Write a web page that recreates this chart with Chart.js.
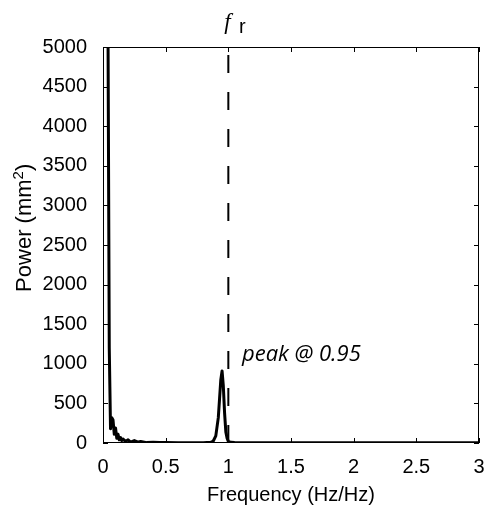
<!DOCTYPE html>
<html>
<head>
<meta charset="utf-8">
<script src="https://cdn.jsdelivr.net/npm/chart.js@4"></script>
<style>
  body { margin: 0; background: #fff; }
  #wrap { width: 485px; height: 511px; }
</style>
</head>
<body>
<div id="wrap"><canvas id="grafico" width="485" height="511"></canvas></div>
<script>
// datos
const frecuencias = [0.02, 0.03, 0.04, 0.05, 0.06, 0.07, 0.08, 0.09, 0.10, 0.11, 0.12, 0.13, 0.14, 0.15, 0.16, 0.18, 0.20, 0.22, 0.25, 0.28, 0.30, 0.35, 0.40, 0.45, 0.50, 0.60, 0.70, 0.80, 0.86, 0.88, 0.90, 0.92, 0.93, 0.94, 0.95, 0.96, 0.97, 0.98, 0.99, 1.00, 1.02, 1.05, 1.2, 1.5, 2.0, 2.5, 3.0];
const potencia = [9000, 8000, 5200, 1200, 180, 320, 290, 110, 190, 60, 110, 40, 70, 30, 50, 20, 40, 10, 30, 10, 20, 5, 10, 5, 5, 4, 3, 4, 8, 25, 90, 320, 560, 800, 910, 720, 380, 140, 60, 20, 8, 5, 4, 3, 3, 2, 2];
const lineaRef = [1];
const ticksX = [0, 0.5, 1, 1.5, 2, 2.5, 3];
const ticksY = [0, 500, 1000, 1500, 2000, 2500, 3000, 3500, 4000, 4500, 5000];

const fuente = "'Liberation Sans', Arial, sans-serif";

// marco y marcas hacia dentro estilo MATLAB
const marco = {
  id: "marco",
  afterDraw(chart) {
    const ctx = chart.ctx;
    const a = chart.chartArea;
    const sx = chart.scales.x, sy = chart.scales.y;
    ctx.save();
    ctx.strokeStyle = "#000";
    ctx.lineWidth = 1;
    ctx.strokeRect(a.left + 0.5, a.top + 0.5, a.right - a.left - 1, a.bottom - a.top - 1);
    ctx.beginPath();
    ticksX.forEach(v => {
      const px = Math.round(sx.getPixelForValue(v)) + 0.5;
      ctx.moveTo(px, a.bottom); ctx.lineTo(px, a.bottom - 5);
      ctx.moveTo(px, a.top); ctx.lineTo(px, a.top + 5);
    });
    ticksY.forEach(v => {
      const py = Math.round(sy.getPixelForValue(v)) + 0.5;
      ctx.moveTo(a.left, py); ctx.lineTo(a.left + 5, py);
      ctx.moveTo(a.right, py); ctx.lineTo(a.right - 5, py);
    });
    ctx.stroke();

    // etiqueta f_r arriba
    const xr = sx.getPixelForValue(lineaRef[0]);
    ctx.fillStyle = "#000";
    ctx.textBaseline = "alphabetic";
    ctx.textAlign = "center";
    ctx.font = "italic 23px 'Liberation Serif', serif";
    ctx.fillText("f", xr - 1, 29);
    ctx.font = "20px " + fuente;
    ctx.fillText("r", xr + 14, 33);

    // anotación del pico
    ctx.textAlign = "left";
    ctx.font = "italic 22px 'Open Sans', sans-serif";
    ctx.fillText("peak @ 0.95", 242, 361);

    // título del eje y, girado
    ctx.save();
    ctx.translate(25, 228);
    ctx.rotate(-Math.PI / 2);
    ctx.textAlign = "left";
    ctx.textBaseline = "middle";
    ctx.font = "22px " + fuente;
    const base = "Power (mm";
    const w1 = ctx.measureText(base).width;
    ctx.font = "15px " + fuente;
    const w2 = ctx.measureText("2").width;
    const x0 = -(w1 + w2 + 7) / 2;
    ctx.font = "22px " + fuente;
    ctx.fillText(base, x0, 0);
    ctx.font = "15px " + fuente;
    ctx.fillText("2", x0 + w1, -6);
    ctx.font = "22px " + fuente;
    ctx.fillText(")", x0 + w1 + w2, 0);
    ctx.restore();

    ctx.restore();
  }
};

const ctx = document.getElementById("grafico").getContext("2d");
const chart = new Chart(ctx, {
  type: "line",
  data: {
    datasets: [{
      data: frecuencias.map((f, i) => ({ x: f, y: potencia[i] })),
      borderColor: "#000",
      borderWidth: 3,
      borderJoinStyle: "round",
      pointRadius: 0,
      tension: 0
    }, {
      data: [{ x: lineaRef[0], y: 0 }, { x: lineaRef[0], y: 5000 }],
      borderColor: "#000",
      borderWidth: 2,
      borderDash: [18, 19],
      pointRadius: 0
    }]
  },
  options: {
    responsive: false,
    animation: false,
    layout: { padding: { top: 47, right: 6, left: 0, bottom: 0 } },
    plugins: { legend: { display: false }, tooltip: { enabled: false } },
    scales: {
      x: {
        type: "linear",
        min: 0, max: 3,
        afterBuildTicks: s => { s.ticks = ticksX.map(v => ({ value: v })); },
        afterFit: s => { s.height = 68; s.paddingRight = 0; s.paddingLeft = 0; },
        grid: { display: false },
        border: { display: false },
        ticks: { color: "#000", font: { family: fuente, size: 20 }, padding: 4, maxRotation: 0, callback: v => String(v) },
        title: { display: true, text: "Frequency (Hz/Hz)", color: "#000", font: { family: fuente, size: 20 }, padding: { top: 0 } }
      },
      y: {
        min: 0, max: 5000,
        afterBuildTicks: s => { s.ticks = ticksY.map(v => ({ value: v })); },
        afterFit: s => { s.width = 103; },
        grid: { display: false },
        border: { display: false },
        ticks: { color: "#000", font: { family: fuente, size: 20 }, padding: 8, callback: v => String(v) },
        title: { display: false }
      }
    }
  },
  plugins: [marco]
});
</script>
</body>
</html>
